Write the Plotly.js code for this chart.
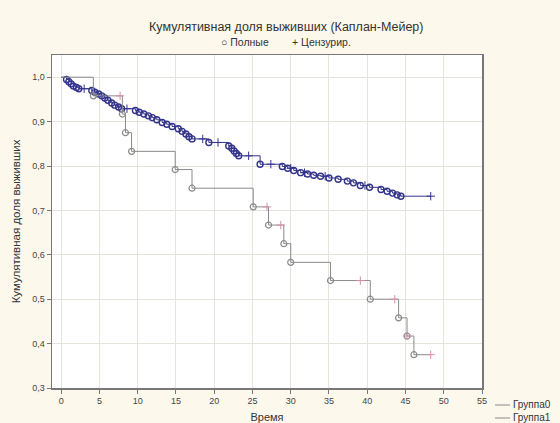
<!DOCTYPE html>
<html>
<head>
<meta charset="utf-8">
<script src="https://cdn.plot.ly/plotly-3.0.1.min.js"></script>
<style>
  html, body { margin: 0; padding: 0; background: #fcf8ec; }
  #chart { width: 560px; height: 423px; }
</style>
</head>
<body>
<div id="chart"></div>
<script>
// Group 0: step curve (time, cumulative survival)
const g0Time = [0, 0.7, 1.0, 1.3, 1.6, 2.0, 2.3, 4.0, 4.4, 4.9, 5.3, 5.7, 6.1, 6.6, 7.0, 7.5, 7.9,
  9.7, 10.2, 10.8, 11.4, 11.9, 12.5, 13.2, 13.8, 14.5, 15.3, 15.8, 16.3, 16.7, 17.1, 19.3,
  21.9, 22.3, 22.6, 22.9, 23.2, 26.0, 28.9, 29.6, 30.4, 31.3, 32.2, 33.0, 33.9, 35.0, 36.2,
  37.4, 38.2, 39.1, 40.3, 41.8, 42.6, 43.3, 43.9, 44.4];
const g0Surv = [1.0, 0.995, 0.99, 0.985, 0.98, 0.977, 0.974, 0.970, 0.966, 0.962, 0.958, 0.953, 0.948, 0.942, 0.937, 0.933, 0.929,
  0.925, 0.921, 0.917, 0.913, 0.909, 0.904, 0.898, 0.894, 0.889, 0.884, 0.878, 0.872, 0.866, 0.861, 0.853,
  0.845, 0.840, 0.834, 0.828, 0.823, 0.804, 0.799, 0.795, 0.790, 0.785, 0.782, 0.779, 0.777, 0.773, 0.770,
  0.766, 0.762, 0.756, 0.752, 0.747, 0.743, 0.739, 0.735, 0.732];
const g0CensTime = [3.0, 8.6, 18.5, 20.5, 24.5, 27.4, 30.0, 31.8, 34.5, 39.7, 48.3];
const g0CensSurv = [0.974, 0.929, 0.861, 0.853, 0.823, 0.804, 0.795, 0.785, 0.777, 0.756, 0.732];
const g0End = 48.3;

// Group 1
const g1Time = [0, 4.2, 8.0, 8.4, 9.2, 14.9, 17.1, 25.1, 27.1, 29.1, 30.0, 35.2, 40.4, 44.1, 45.2, 46.1];
const g1Surv = [1.0, 0.958, 0.917, 0.875, 0.833, 0.792, 0.750, 0.708, 0.667, 0.625, 0.583, 0.542, 0.500, 0.458, 0.417, 0.375];
const g1CensTime = [7.7, 26.9, 28.7, 39.1, 43.6, 45.2, 48.3];
const g1CensSurv = [0.958, 0.708, 0.667, 0.542, 0.500, 0.417, 0.375];
const g1End = 48.3;

const titleText = 'Кумулятивная доля выживших (Каплан-Мейер)';
const subLegend = ['○ Полные', '+ Цензурир.'];
const xTitle = 'Время';
const yTitle = 'Кумулятивная доля выживших';
const groupNames = ['Группа0', 'Группа1'];
const xTicks = [0, 5, 10, 15, 20, 25, 30, 35, 40, 45, 50, 55];
const yTicks = [0.3, 0.4, 0.5, 0.6, 0.7, 0.8, 0.9, 1.0];

const c0 = '#34348c';
const c1 = '#8a8a8a';
const c1c = '#d98fa8';

const traces = [
  { x: g0Time.concat([g0End]), y: g0Surv.concat([g0Surv[g0Surv.length-1]]), mode: 'lines', line: {shape: 'hv', color: c0, width: 1}, showlegend: false, hoverinfo: 'skip' },
  { x: g0Time.slice(1), y: g0Surv.slice(1), mode: 'markers', marker: {symbol: 'circle-open', size: 6, color: c0, line: {width: 1.4, color: c0}}, showlegend: false },
  { x: g0CensTime, y: g0CensSurv, mode: 'markers', marker: {symbol: 'cross-thin-open', size: 6, color: c0, line: {width: 1, color: c0}}, showlegend: false },
  { x: g1Time.concat([g1End]), y: g1Surv.concat([g1Surv[g1Surv.length-1]]), mode: 'lines', line: {shape: 'hv', color: c1, width: 1}, showlegend: false, hoverinfo: 'skip' },
  { x: g1Time.slice(1), y: g1Surv.slice(1), mode: 'markers', marker: {symbol: 'circle-open', size: 6, color: c1, line: {width: 1.2, color: c1}}, showlegend: false },
  { x: g1CensTime, y: g1CensSurv, mode: 'markers', marker: {symbol: 'cross-thin-open', size: 6, color: c1c, line: {width: 1, color: c1c}}, showlegend: false }
];

const fontFam = 'Liberation Sans, Arial, sans-serif';
const layout = {
  width: 560, height: 423,
  margin: {l: 52, r: 78, t: 55, b: 35},
  paper_bgcolor: '#fcf8ec',
  plot_bgcolor: '#ffffff',
  font: {family: fontFam, size: 10, color: '#333333'},
  separators: ', ',
  xaxis: {
    range: [-1.2, 55], tickvals: xTicks, ticks: 'outside', ticklen: 4, tickcolor: '#777',
    showgrid: true, gridcolor: '#e4e4dc', zeroline: false,
    showline: true, linecolor: '#777', linewidth: 1.5, mirror: true,
    tickfont: {size: 9, color: '#444'},
    title: {text: xTitle, font: {size: 11, color: '#333'}, standoff: 9}
  },
  yaxis: {
    range: [0.3, 1.05], tickvals: yTicks, tickformat: '.1f', ticks: 'outside', ticklen: 4, tickcolor: '#777',
    showgrid: true, gridcolor: '#e4e4dc', zeroline: false,
    showline: true, linecolor: '#777', linewidth: 1.5, mirror: true,
    tickfont: {size: 9, color: '#444'},
    title: {text: yTitle, font: {size: 11.5, color: '#333'}, standoff: 9}
  },
  showlegend: false,
  annotations: [
    {text: titleText, xref: 'paper', yref: 'paper', x: 0.545, y: 1, yanchor: 'middle', yshift: 28, showarrow: false, font: {size: 12.5, color: '#333'}},
    {text: subLegend[0] + '        ' + subLegend[1], xref: 'paper', yref: 'paper', x: 0.545, y: 1, yanchor: 'middle', yshift: 13, showarrow: false, font: {size: 10.5, color: '#333'}},
    {text: groupNames[0], xref: 'paper', yref: 'paper', x: 1.0, y: 0, xanchor: 'left', yanchor: 'middle', xshift: 30, yshift: -16, borderpad: 0, showarrow: false, font: {size: 10, color: '#333'}},
    {text: groupNames[1], xref: 'paper', yref: 'paper', x: 1.0, y: 0, xanchor: 'left', yanchor: 'middle', xshift: 30, yshift: -29, borderpad: 0, showarrow: false, font: {size: 10, color: '#333'}}
  ],
  shapes: [
    {type: 'line', xref: 'paper', yref: 'paper', xsizemode: 'pixel', ysizemode: 'pixel', xanchor: 1.0, yanchor: 0, x0: 13, x1: 28, y0: -17, y1: -17, line: {color: c1, width: 1}},
    {type: 'line', xref: 'paper', yref: 'paper', xsizemode: 'pixel', ysizemode: 'pixel', xanchor: 1.0, yanchor: 0, x0: 13, x1: 28, y0: -30, y1: -30, line: {color: c1, width: 1}}
  ]
};

Plotly.newPlot('chart', traces, layout, {staticPlot: true, displayModeBar: false});
</script>
</body>
</html>
